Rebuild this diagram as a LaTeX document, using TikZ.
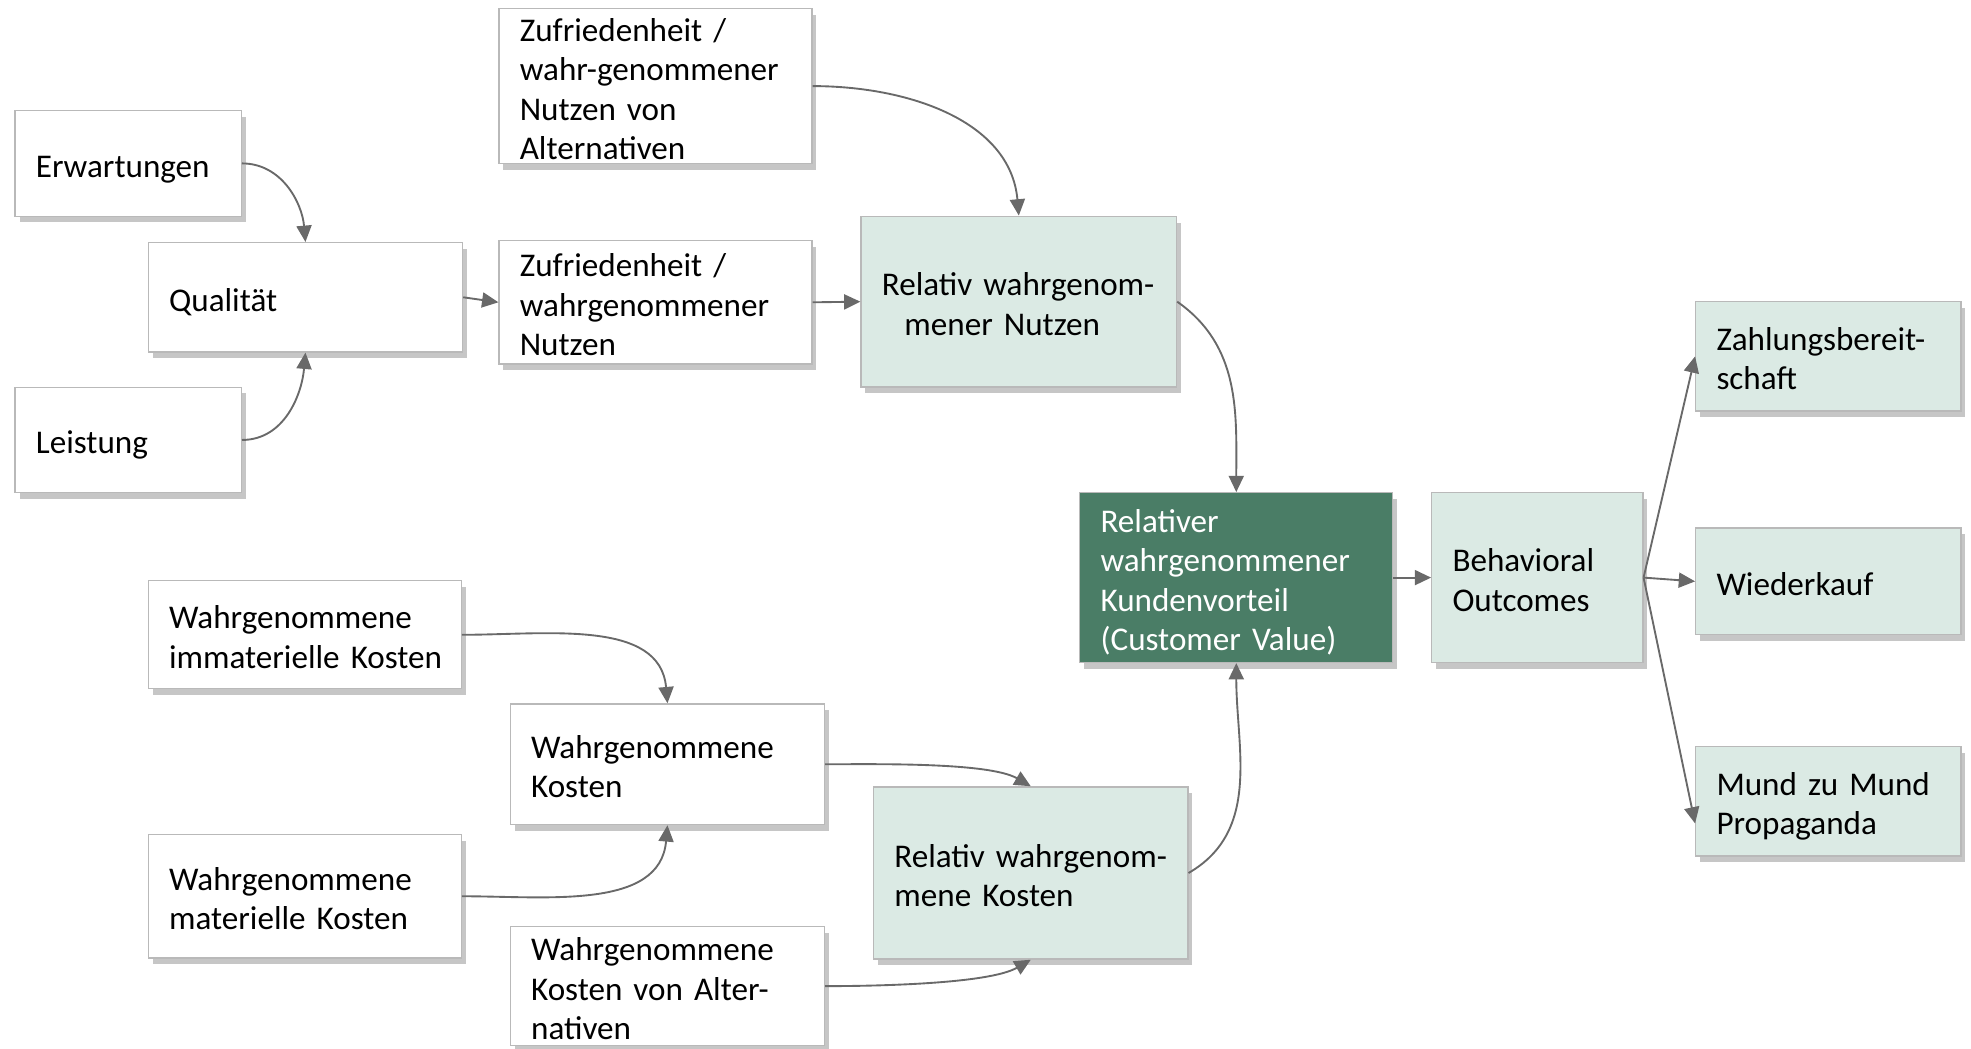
\documentclass[tikz,border=0pt]{standalone}
\usepackage{fontspec}
\setmainfont{Carlito}
\usepackage{tikz}
\usetikzlibrary{positioning,calc,arrows.meta,shadows}
\usepackage{xcolor}
\definecolor{boxline}{RGB}{185,185,185}
\definecolor{palegreen}{RGB}{219,234,228}
\definecolor{darkgreen}{RGB}{74,125,102}
\definecolor{edgegray}{RGB}{105,105,105}

\begin{document}
\begin{tikzpicture}[x=0.02cm,y=-0.02cm,
plain/.style={rectangle,draw=boxline,line width=0.6pt,fill=white,align=left,
  inner xsep=0.33cm,inner ysep=0pt,font=\fontsize{15}{17.9}\selectfont,
  drop shadow={shadow xshift=0.07cm,shadow yshift=-0.1cm,fill=black!50,opacity=0.45}},
box/.style={plain,execute at begin node={\rule{0pt}{16.3pt}},
  execute at end node={\rule[-3.8pt]{0pt}{3.8pt}}},
tight/.style={plain,execute at begin node={\rule{0pt}{13pt}}},
pale/.style={box,fill=palegreen},
dark/.style={box,fill=darkgreen,text=white},
edge/.style={-{Triangle[length=0.26cm,width=0.24cm]},draw=edgegray,line width=0.85pt}]

\useasboundingbox (0,0) rectangle (1568,834);

% left: Nutzen side
\node[box,text width=2.94cm,minimum height=1.68cm] (erw) at (102,130) {Erwartungen};
\node[box,text width=4.34cm,minimum height=1.74cm] (qual) at (243,236.5) {Qualität};
\node[box,text width=2.94cm,minimum height=1.68cm] (leis) at (102,350) {Leistung};
\node[tight,text width=4.32cm,minimum height=2.46cm] (nutzenalt) at (521.5,68.5)
    {Zufriedenheit /\\wahr-genommener\\Nutzen von\\Alternativen};
\node[box,text width=4.32cm,minimum height=1.9cm] (zufr) at (521.5,240.5)
    {Zufriedenheit /\\wahrgenommener\\Nutzen};
\node[pale,text width=4.36cm,minimum height=2.72cm] (relnutzen) at (810.5,240)
    {Relativ wahrgenom-\\\hspace*{0.36cm}mener Nutzen};

% left: Kosten side
\node[box,text width=4.32cm,minimum height=1.72cm] (immat) at (242.5,505)
    {Wahrgenommene\\\mbox{immaterielle Kosten}};
\node[box,text width=4.34cm,minimum height=1.92cm] (kosten) at (531,608)
    {Wahrgenommene\\Kosten};
\node[box,text width=4.32cm,minimum height=1.96cm] (mat) at (242.5,713)
    {Wahrgenommene\\materielle Kosten};
\node[tight,text width=4.34cm,minimum height=1.9cm] (kostenalt) at (531,784.5)
    {Wahrgenommene\\Kosten von Alter-\\nativen};
\node[pale,text width=4.34cm,minimum height=2.74cm] (relkosten) at (820,694.5)
    {Relativ wahrgenom-\\mene Kosten};

% centre and outcomes
\node[dark,text width=4.32cm,minimum height=2.7cm] (value) at (983.5,459.5)
    {Relativer\\wahrgenommener\\Kundenvorteil\\(Customer Value)};
\node[pale,text width=2.7cm,minimum height=2.7cm] (outcomes) at (1223,459.5)
    {Behavioral\\Outcomes};
\node[pale,text width=3.56cm,minimum height=1.74cm] (zahlung) at (1454.5,283.5)
    {Zahlungsbereit-\\schaft};
\node[pale,text width=3.56cm,minimum height=1.7cm] (wieder) at (1454.5,462.5)
    {Wiederkauf};
\node[pale,text width=3.56cm,minimum height=1.74cm] (mund) at (1454.5,637.5)
    {Mund zu Mund\\Propaganda};

% arrows
\draw[edge] (erw.east) to[out=0,in=95] (qual.north);
\draw[edge] (leis.east) to[out=0,in=-95] (qual.south);
\draw[edge] (qual.east) -- (zufr.west);
\draw[edge] (zufr.east) -- (relnutzen.west);
\draw[edge] (nutzenalt.east) to[out=0,in=95] (relnutzen.north);
\draw[edge] (relnutzen.east) to[out=-35,in=90] (value.north);

\draw[edge] (immat.east) to[out=0,in=95] (kosten.north);
\draw[edge] (mat.east) to[out=0,in=-95] (kosten.south);
\draw[edge] (kosten.east) to[out=0,in=150,looseness=0.6] (relkosten.north);
\draw[edge] (kostenalt.east) to[out=0,in=-150,looseness=0.6] (relkosten.south);
\draw[edge] (relkosten.east) to[out=30,in=-90] (value.south);

\draw[edge] (value.east) -- (outcomes.west);
\draw[edge] (outcomes.east) -- (zahlung.west);
\draw[edge] (outcomes.east) -- (wieder.west);
\draw[edge] (outcomes.east) -- ($(mund.west)!0.4!(mund.south west)$);

\end{tikzpicture}
\end{document}
